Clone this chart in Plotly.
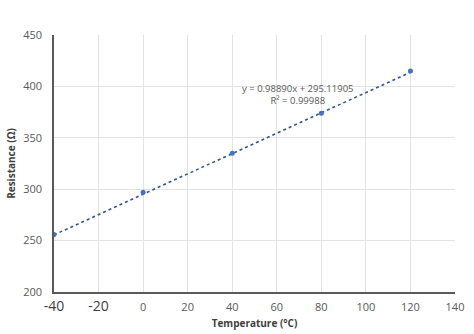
import plotly.graph_objects as go

temps = [-40, 0, 40, 80, 120]
resist = [256, 297, 335, 374, 415]
slope = 0.98890
intercept = 295.11905
r2 = 0.99988
x_ticks = [-40, -20, 0, 20, 40, 60, 80, 100, 120, 140]
y_ticks = [200, 250, 300, 350, 400, 450]

def tick_label(v):
    if v < 0:
        return f"<span style='font-size:14px;color:#404040'>{v}</span>"
    return str(v)

fit_x = [temps[0], temps[-1]]
fit_y = [slope * x + intercept for x in fit_x]

fig = go.Figure()
fig.add_trace(go.Scatter(x=fit_x, y=fit_y, mode="lines",
                         line=dict(color="#2E5597", width=1.6, dash="dot"),
                         showlegend=False, hoverinfo="skip"))
fig.add_trace(go.Scatter(x=temps, y=resist, mode="markers",
                         marker=dict(color="#4472C4", size=5),
                         showlegend=False))

fig.add_annotation(x=0.608, y=0.823, xref="paper", yref="paper",
                   text=f"y = {slope:.5f}x + {intercept:.5f}<br>R² = {r2:.5f}",
                   showarrow=False, align="center",
                   font=dict(family="Open Sans, DejaVu Sans", size=9.5, color="#595959"))

fig.update_layout(
    width=474, height=334,
    margin=dict(l=54, r=19, t=35, b=42),
    paper_bgcolor="white", plot_bgcolor="white",
    font=dict(family="Open Sans, DejaVu Sans", color="#595959", size=11),
)
fig.update_xaxes(range=[-40, 140], tickvals=x_ticks,
                 ticktext=[tick_label(v) for v in x_ticks],
                 showgrid=True, gridcolor="#E3E3E3", gridwidth=1,
                 showline=True, linecolor="#595959", linewidth=1.5,
                 zeroline=False, ticks="", ticklabelstandoff=4,
                 automargin=False,
                 tickfont=dict(size=11, color="#595959"),
                 title=dict(text="<b>Temperature (°C)</b>", standoff=6,
                            font=dict(size=10, color="#404040")))
fig.update_yaxes(range=[200, 450], tickvals=y_ticks,
                 showgrid=True, gridcolor="#E3E3E3", gridwidth=1,
                 showline=True, linecolor="#595959", linewidth=1.5,
                 zeroline=False, ticks="", ticklabelstandoff=8,
                 automargin=False,
                 tickfont=dict(size=11, color="#595959"),
                 title=dict(text="<b>Resistance (Ω)</b>", standoff=6,
                            font=dict(size=10, color="#404040")))

fig.write_html("out.html")
